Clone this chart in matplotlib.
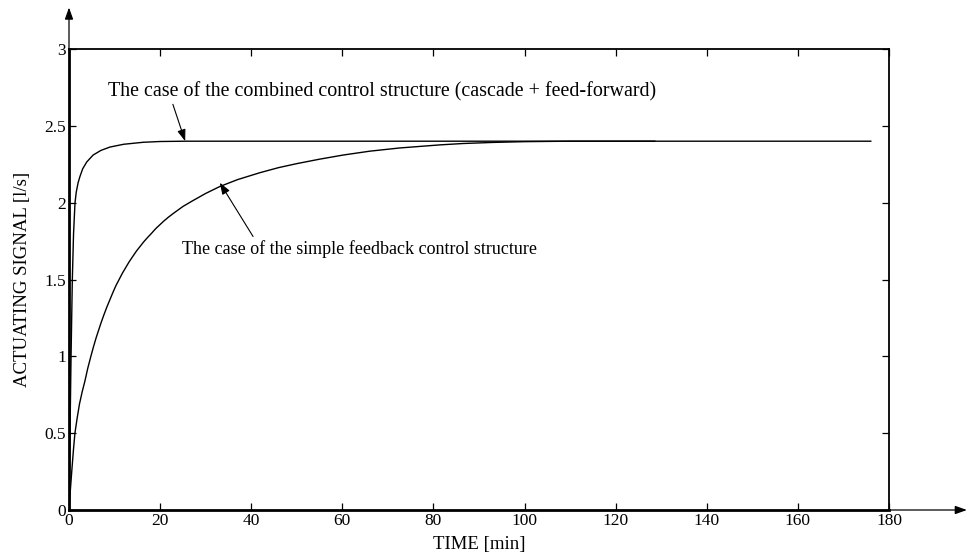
import matplotlib
matplotlib.use("Agg")
import matplotlib.pyplot as plt

plt.rcParams['font.family'] = ['Liberation Serif', 'DejaVu Serif']

# Combined control structure (cascade + feed-forward)
t_combined = [0, 0.1, 0.22, 0.45, 0.73, 1.0, 1.32, 1.6, 2.0, 2.4, 3.0, 3.9, 5.3, 7.0, 9.0, 12.0, 16.3, 20.0, 25.5, 40, 80, 120, 176]
y_combined = [0, 0.25, 0.5, 1.0, 1.5, 1.8, 2.0, 2.07, 2.13, 2.17, 2.22, 2.265, 2.31, 2.34, 2.362, 2.38, 2.393, 2.398, 2.40, 2.40, 2.40, 2.40, 2.40]

# Simple feedback control structure
t_simple = [0, 0.3, 0.6, 1.0, 1.3, 1.8, 2.3, 2.9, 3.5, 4.1, 4.8, 5.4, 6.0, 6.5, 7.0, 7.6, 8.3, 9.0, 9.7, 10.3, 11.0, 11.7, 12.5, 13.2, 14.0, 14.8, 15.6, 16.4, 17.2, 18.1, 19.0, 19.9, 20.8, 21.8, 22.9, 25.0, 27.0, 30.0, 33.1, 37.0, 41.9, 46.0, 50.0, 55.0, 60.2, 66.0, 72.6, 81.4, 86.5, 93.0, 100.0, 110.0, 128.6]
y_simple = [0, 0.13, 0.25, 0.4, 0.5, 0.6, 0.69, 0.77, 0.84, 0.92, 1.0, 1.065, 1.125, 1.17, 1.215, 1.265, 1.32, 1.37, 1.42, 1.46, 1.5, 1.54, 1.58, 1.615, 1.65, 1.685, 1.715, 1.745, 1.772, 1.80, 1.83, 1.855, 1.88, 1.905, 1.93, 1.975, 2.01, 2.06, 2.105, 2.15, 2.195, 2.228, 2.254, 2.283, 2.31, 2.335, 2.356, 2.376, 2.385, 2.392, 2.397, 2.40, 2.40]

x_ticks = [0, 20, 40, 60, 80, 100, 120, 140, 160, 180]
x_ticklabels = ['0', '20', '40', '60', '80', '100', '120', '140', '160', '180']
y_ticks = [0, 0.5, 1, 1.5, 2, 2.5, 3]
y_ticklabels = ['0', '0.5', '1', '1.5', '2', '2.5', '3']

label_combined = "The case of the combined control structure (cascade + feed-forward)"
label_simple = "The case of the simple feedback control structure"

fig = plt.figure(figsize=(9.69, 5.59), dpi=100)
ax = fig.add_axes([69/969, 1-510/559, 820/969, 461/559])

ax.plot(t_combined, y_combined, color='black', lw=1.0)
ax.plot(t_simple, y_simple, color='black', lw=1.0)

ax.set_xlim(0, 180)
ax.set_ylim(0, 3)
ax.set_xticks(x_ticks)
ax.set_xticklabels(x_ticklabels)
ax.set_yticks(y_ticks)
ax.set_yticklabels(y_ticklabels)
ax.tick_params(direction='in', length=5, width=0.9, top=True, right=True,
               labelsize=12.5, pad=2, colors='black')

for s in ['left', 'bottom']:
    ax.spines[s].set_linewidth(2.0)
for s in ['top', 'right']:
    ax.spines[s].set_linewidth(1.3)

ax.set_xlabel('TIME [min]', fontsize=13.5, labelpad=5)
ax.set_ylabel('ACTUATING SIGNAL [l/s]', fontsize=13.5, labelpad=10)

# axis arrows
ax.annotate('', xy=(0, 1.09), xytext=(0, 1.0), xycoords='axes fraction',
            arrowprops=dict(arrowstyle='-|>,head_length=0.7,head_width=0.25', color='black', lw=0.9,
                            shrinkA=0, shrinkB=0), annotation_clip=False)
ax.annotate('', xy=(1.095, 0), xytext=(1.0, 0), xycoords='axes fraction',
            arrowprops=dict(arrowstyle='-|>,head_length=0.7,head_width=0.25', color='black', lw=0.9,
                            shrinkA=0, shrinkB=0), annotation_clip=False)

# annotations
ax.text(8.5, 2.72, label_combined, fontsize=14.4, ha='left', va='center')
ax.annotate('', xy=(25.5, 2.40), xytext=(22.8, 2.64),
            arrowprops=dict(arrowstyle='-|>,head_length=0.7,head_width=0.25', color='black', lw=0.8,
                            shrinkA=0, shrinkB=0))
ax.text(24.7, 1.70, label_simple, fontsize=13.0, ha='left', va='center')
ax.annotate('', xy=(33.1, 2.13), xytext=(40.4, 1.78),
            arrowprops=dict(arrowstyle='-|>,head_length=0.7,head_width=0.25', color='black', lw=0.8,
                            shrinkA=0, shrinkB=0))

fig.savefig('out.png', dpi=100)
